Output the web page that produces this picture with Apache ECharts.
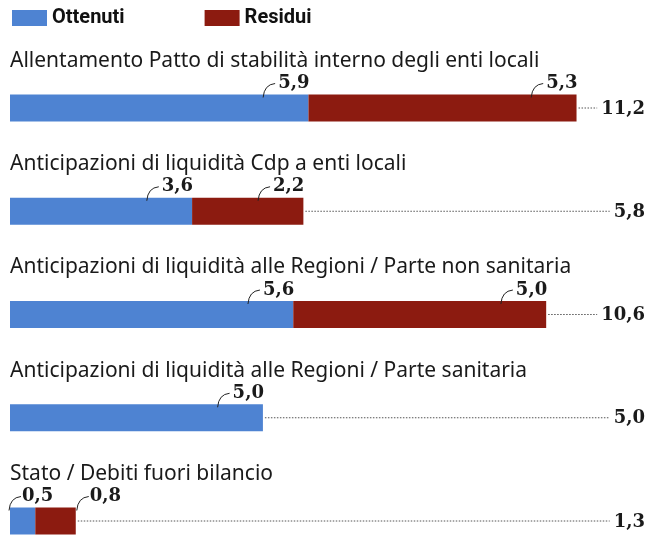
<!DOCTYPE html>
<html>
<head>
<meta charset="utf-8">
<script src="https://cdn.jsdelivr.net/npm/echarts@6/dist/echarts.min.js"></script>
<style>
  html, body { margin: 0; padding: 0; background: #fff; }
  #chart { width: 656px; height: 535px; }
</style>
</head>
<body>
<div id="chart"></div>
<script>
// dati (miliardi)
const categories = [
  'Allentamento Patto di stabilità interno degli enti locali',
  'Anticipazioni di liquidità Cdp a enti locali',
  'Anticipazioni di liquidità alle Regioni / Parte non sanitaria',
  'Anticipazioni di liquidità alle Regioni / Parte sanitaria',
  'Stato / Debiti fuori bilancio'
];
const ottenuti = [5.9, 3.6, 5.6, 5.0, 0.5];
const residui = [5.3, 2.2, 5.0, 0, 0.8];
const totali = [11.2, 5.8, 10.6, 5.0, 1.3];

const BLUE = '#4e83d2';
const RED = '#8c1b10';
const BAR_H = 27;
const SMALL = 1; // segments below this get their label moved out of the way
const NUM_FONT = 'bold 18px "DejaVu Serif"';
const TITLE_FONT = '21px "Noto Sans"';

const fmt = v => v.toFixed(1).replace('.', ',');

const measureCtx = document.createElement('canvas').getContext('2d');
function textW(s, font) {
  measureCtx.font = font;
  return measureCtx.measureText(s).width;
}

const chart = echarts.init(document.getElementById('chart'));

const segLabel = {
  show: true,
  position: 'insideTopRight',
  distance: 0,
  offset: [1, -2],
  verticalAlign: 'bottom',
  color: '#1a1a1a',
  fontFamily: 'DejaVu Serif',
  fontWeight: 'bold',
  fontSize: 18,
  formatter: p => (p.value > 0 ? fmt(p.value) : '')
};

// small segments: first one labelled from its start, second one after its end
function segItems(values, first) {
  return values.map(v => {
    if (v <= 0 || v >= SMALL) return v;
    return {
      value: v,
      label: first
        ? { position: 'insideTopLeft', align: 'left', offset: [12, -2] }
        : { position: 'insideTopRight', align: 'left', offset: [14, -2] }
    };
  });
}

// little curved leader before a value label whose left edge is at x
function hook(left, barTop) {
  return {
    type: 'bezierCurve',
    shape: {
      x1: left - 13, y1: barTop + 3,
      x2: left - 1, y2: barTop - 11,
      cpx1: left - 12, cpy1: barTop - 10
    },
    style: { stroke: '#222', lineWidth: 1, fill: null }
  };
}

function renderExtras(params, api) {
  const total = api.value(0);
  const idx = api.value(1);
  const ott = api.value(2);
  const res = api.value(3);
  const start = api.coord([0, idx]);
  const mid = api.coord([ott, idx]);
  const end = api.coord([total, idx]);
  const cy = end[1];
  const barTop = cy - BAR_H / 2;
  const W = api.getWidth();
  const totText = fmt(total);
  const totRight = W - 11;
  const totLeft = totRight - textW(totText, NUM_FONT);
  const children = [
    {
      type: 'text',
      style: {
        text: categories[idx], x: start[0], y: cy - 47,
        font: TITLE_FONT, fill: '#1a1a1a', align: 'left', verticalAlign: 'middle'
      }
    },
    {
      type: 'line',
      shape: { x1: end[0] + 2, y1: cy, x2: totLeft - 4, y2: cy },
      style: { stroke: '#555', lineWidth: 1, lineDash: [1.5, 1.5] }
    },
    {
      type: 'text',
      style: {
        text: totText, x: totRight, y: cy + 1,
        font: NUM_FONT, fill: '#1a1a1a', align: 'right', verticalAlign: 'middle'
      }
    }
  ];
  if (ott > 0) {
    const l = ott < SMALL ? start[0] + 12 : mid[0] - 1 - textW(fmt(ott), NUM_FONT);
    children.push(hook(l, barTop));
  }
  if (res > 0) {
    const l = res < SMALL ? end[0] + 14 : end[0] - 1 - textW(fmt(res), NUM_FONT);
    children.push(hook(l, barTop));
  }
  return { type: 'group', children: children };
}

chart.setOption({
  animation: false,
  legend: {
    left: 7,
    top: 3,
    icon: 'rect',
    itemWidth: 35,
    itemHeight: 16,
    itemGap: 80,
    textStyle: { fontFamily: 'Roboto', fontWeight: 'bold', fontSize: 20, color: '#111' },
    data: ['Ottenuti', 'Residui']
  },
  // bar centres sit on the category points (boundaryGap false)
  grid: { left: 10, right: 39, top: 108, bottom: 14 },
  xAxis: { type: 'value', min: 0, max: 12, show: false },
  yAxis: { type: 'category', inverse: true, boundaryGap: false, data: categories, show: false },
  series: [
    {
      name: 'Ottenuti', type: 'bar', stack: 'tot', barWidth: BAR_H,
      itemStyle: { color: BLUE }, label: segLabel, data: segItems(ottenuti, true)
    },
    {
      name: 'Residui', type: 'bar', stack: 'tot', barWidth: BAR_H,
      itemStyle: { color: RED }, label: segLabel, data: segItems(residui, false)
    },
    {
      type: 'custom', silent: true, z: 5,
      encode: { x: 0, y: 1 },
      renderItem: renderExtras,
      data: categories.map((c, i) => [totali[i], i, ottenuti[i], residui[i]])
    }
  ]
});
</script>
</body>
</html>
